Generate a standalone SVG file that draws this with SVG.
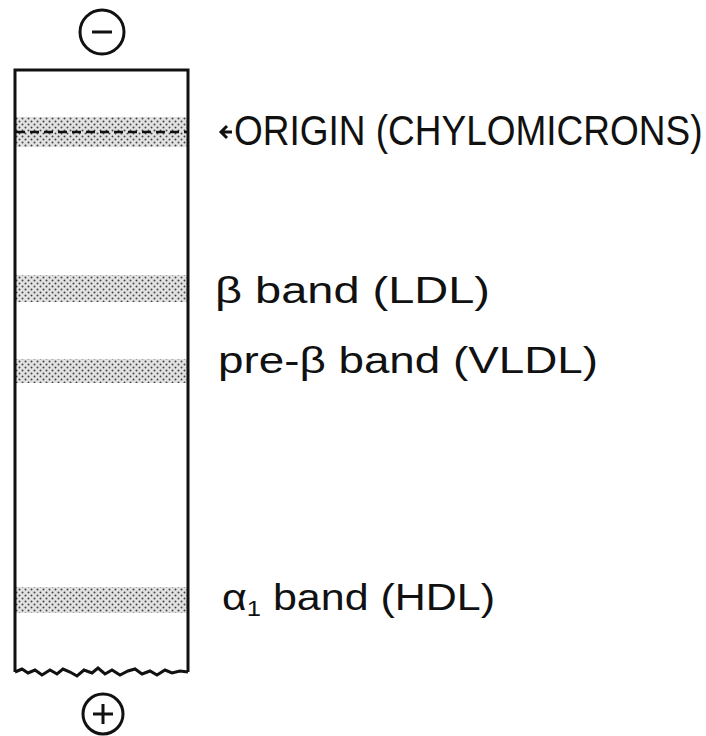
<svg xmlns="http://www.w3.org/2000/svg" width="706" height="736" viewBox="0 0 706 736">
<style>
.lbl{font-family:"Liberation Sans","DejaVu Sans",sans-serif;font-size:37px;fill:#111}
.ln{fill:none;stroke:#111;stroke-width:3}
.band{fill:url(#dots)}
</style>
<defs>
<pattern id="dots" width="6" height="6" patternUnits="userSpaceOnUse">
<rect width="6" height="6" fill="#e2e2e2"/>
<circle cx="1.5" cy="1.5" r="1" fill="#444"/>
<circle cx="4.5" cy="4.5" r="1" fill="#444"/>
</pattern>
</defs>
<g id="minus">
<circle class="ln" cx="102" cy="32" r="22" stroke-width="2.5"/>
<line class="ln" x1="92" y1="32" x2="112" y2="32" stroke-width="3.5"/>
</g>
<g id="strip">
<rect class="band" x="16" y="117" width="171" height="30"/>
<rect class="band" x="16" y="275" width="171" height="27"/>
<rect class="band" x="16" y="359" width="171" height="24"/>
<rect class="band" x="16" y="587" width="171" height="26"/>
<line x1="16" y1="132" x2="187" y2="132" stroke="#111" stroke-width="2.5" stroke-dasharray="9,5"/>
<path class="ln" d="M15,672 V70 H188 V672"/>
<path class="ln" stroke-width="2.5" d="M15,672 L22,669 L28,673 L35,670 L42,675 L50,670 L57,674 L63,669 L70,672 L77,676 L84,670 L92,673 L98,668 L105,674 L112,670 L120,675 L128,671 L135,669 L142,674 L150,671 L157,675 L165,670 L172,673 L180,671 L188,672"/>
</g>
<g id="plus">
<circle class="ln" cx="103" cy="714" r="20" stroke-width="2.5"/>
<line class="ln" x1="93" y1="714" x2="113" y2="714" stroke-width="3"/>
<line class="ln" x1="103" y1="704" x2="103" y2="724" stroke-width="3"/>
</g>
<g id="labels">
<path class="ln" stroke-width="2.5" d="M232,132 H221 M227,126 L221,132 L227,138"/>
<text class="lbl" transform="translate(234,145) scale(1,1.17)" x="0" y="0" font-size="34">ORIGIN (CHYLOMICRONS)</text>
<text class="lbl" x="215" y="303" textLength="275" lengthAdjust="spacingAndGlyphs">β band (LDL)</text>
<text class="lbl" x="218" y="373" textLength="380" lengthAdjust="spacingAndGlyphs">pre-β band (VLDL)</text>
<text class="lbl" x="222" y="610" textLength="273" lengthAdjust="spacingAndGlyphs">α<tspan font-size="22" dy="6">1</tspan><tspan dy="-6"> band (HDL)</tspan></text>
</g>
</svg>
